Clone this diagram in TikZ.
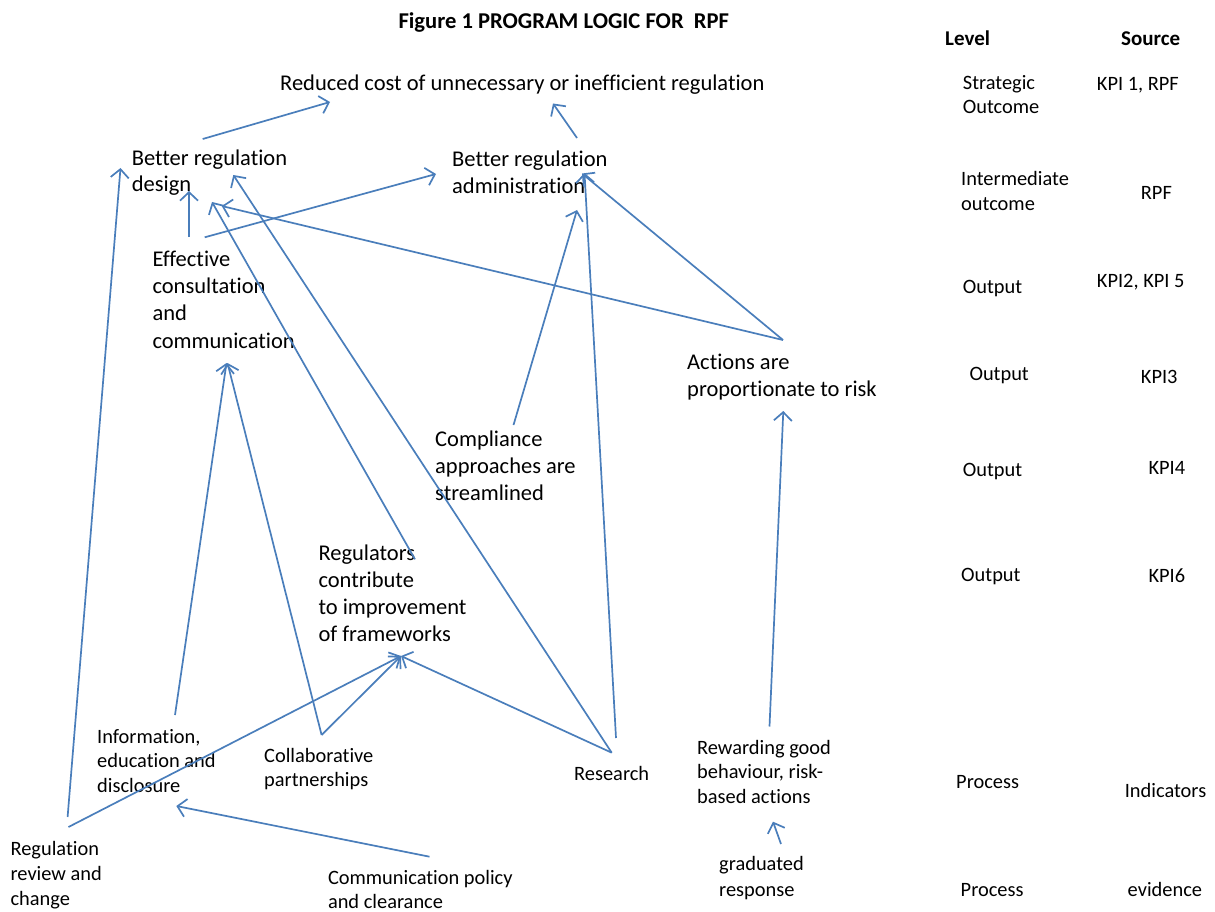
\documentclass[tikz,border=0pt]{standalone}
\usepackage{fontspec}
\setmainfont{Carlito}[Ligatures=NoCommon]
\usetikzlibrary{arrows.meta}
\definecolor{arrowblue}{RGB}{74,126,187}
\tikzset{
  lbl/.style={anchor=base west, inner sep=0pt, align=left, font=\fontsize{22.5}{#1}\selectfont},
  lbl/.default=27,
  slbl/.style={anchor=base west, inner sep=0pt, align=left, font=\fontsize{20.4}{#1}\selectfont},
  slbl/.default=24.5,
  hdr/.style={anchor=base west, inner sep=0pt, font=\bfseries\fontsize{21}{24}\selectfont},
  ttl/.style={anchor=base west, inner sep=0pt, font=\bfseries\fontsize{22.6}{26}\selectfont},
  arr/.style={draw=arrowblue, line width=1.7pt, -{Straight Barb[length=8.5pt,width=18pt,line width=1.7pt]}}
}
\begin{document}
\begin{tikzpicture}[x=1pt,y=-1pt]
\useasboundingbox (0,0) rectangle (1215,912);
% title and headers
\node[ttl] (title) at (398.3,28.3) {Figure 1 PROGRAM LOGIC FOR \ RPF};
\node[hdr] (level) at (945,45.5) {Level};
\node[hdr] (source) at (1121,45.5) {Source};
% main labels (anchored at the baseline of the last line)
\node[lbl] (reduced) at (280,91) {Reduced cost of unnecessary or inefficient regulation};
\node[lbl=25.7] (design) at (131.7,191.7) {Better regulation\\design};
\node[lbl=26.7] (admin) at (452,193.4) {Better regulation\\administration};
\node[lbl=27.4] (effective) at (152.3,348.2) {Effective\\consultation\\and\\communication};
\node[lbl=26.7] (actions) at (687,396) {Actions are\\proportionate to risk};
\node[lbl=27] (compliance) at (435,500) {Compliance\\approaches are\\streamlined};
\node[lbl=27.2] (regulators) at (318.3,641.6) {Regulators\\contribute\\to improvement\\of frameworks};
% small labels
\node[slbl=24.5] (info) at (97,792.3) {Information,\\education and\\disclosure};
\node[slbl=24.4] (collab) at (264,786.7) {Collaborative\\partnerships};
\node[slbl] (research) at (574,780) {Research};
\node[slbl=24.7] (rewarding) at (697,803.4) {Rewarding good\\behaviour, risk-\\based actions};
\node[slbl=26.7] (graduated) at (719,896.7) {graduated\\response};
\node[slbl=25] (review) at (10.4,905) {Regulation\\review and\\change};
\node[slbl=24] (commpol) at (327.8,908.3) {Communication policy\\and clearance};
% level column
\node[slbl=24.7] (lv1) at (962.7,114) {Strategic\\Outcome};
\node[slbl=25] (lv2) at (961,210.7) {Intermediate\\outcome};
\node[slbl] (lv3) at (962.7,293.3) {Output};
\node[slbl] (lv4) at (969.3,380) {Output};
\node[slbl] (lv5) at (962.7,476.7) {Output};
\node[slbl] (lv6) at (961,581) {Output};
\node[slbl] (lv7) at (956,788.3) {Process};
\node[slbl] (lv8) at (960.5,896.7) {Process};
% source column
\node[slbl] (src1) at (1096.7,90.7) {KPI 1, RPF};
\node[slbl] (src2) at (1140.7,200) {RPF};
\node[slbl] (src3) at (1096.7,287.3) {KPI2, KPI 5};
\node[slbl] (src4) at (1140.7,383.3) {KPI3};
\node[slbl] (src5) at (1148.3,474.3) {KPI4};
\node[slbl] (src6) at (1148.3,582.7) {KPI6};
\node[slbl] (src7) at (1124.6,797.7) {Indicators};
\node[slbl] (src8) at (1127.5,896.7) {evidence};
% connector end points
\coordinate (reduced-in1) at (330,102);
\coordinate (reduced-in2) at (553,103.5);
\coordinate (design-out) at (202.7,139);
\coordinate (admin-out) at (577,138);
\coordinate (design-in1) at (189,191);
\coordinate (design-in2) at (221.7,206);
\coordinate (design-in3) at (233.3,175);
\coordinate (design-in4) at (212,202);
\coordinate (design-in5) at (120.5,168);
\coordinate (admin-in1) at (436,174);
\coordinate (admin-in2) at (582,173.5);
\coordinate (admin-in3) at (577,210);
\coordinate (admin-in4) at (584.5,173);
\coordinate (eff-out1) at (189,237);
\coordinate (eff-out2) at (204.7,237.3);
\coordinate (eff-in1) at (226.5,363);
\coordinate (eff-in2) at (227.5,363);
\coordinate (act-out) at (783,340);
\coordinate (act-in) at (783.3,411);
\coordinate (comp-out) at (513.5,425);
\coordinate (res-out1) at (616,738);
\coordinate (res-out2) at (611.7,752.7);
\coordinate (reg-out) at (415,559.3);
\coordinate (reg-in) at (401,656);
\coordinate (info-out) at (175,715);
\coordinate (info-in) at (176.3,806);
\coordinate (collab-out) at (321.6,735);
\coordinate (review-out1) at (68.5,827);
\coordinate (review-out2) at (67.6,817);
\coordinate (commpol-out) at (429.5,856.7);
\coordinate (rew-out) at (769.5,726.5);
\coordinate (rew-in) at (773,821.7);
\coordinate (grad-out) at (781,844);
% connectors
\draw[arr] (design-out) -- (reduced-in1);
\draw[arr] (admin-out) -- (reduced-in2);
\draw[arr] (eff-out1) -- (design-in1);
\draw[arr] (eff-out2) -- (admin-in1);
\draw[arr] (act-out) -- (design-in2);
\draw[arr] (act-out) -- (admin-in2);
\draw[arr] (comp-out) -- (admin-in3);
\draw[arr] (res-out1) -- (admin-in4);
\draw[arr] (res-out2) -- (design-in3);
\draw[arr] (res-out2) -- (reg-in);
\draw[arr] (reg-out) -- (design-in4);
\draw[arr] (info-out) -- (eff-in1);
\draw[arr] (collab-out) -- (eff-in2);
\draw[arr] (collab-out) -- (reg-in);
\draw[arr] (review-out1) -- (reg-in);
\draw[arr] (review-out2) -- (design-in5);
\draw[arr] (commpol-out) -- (info-in);
\draw[arr] (rew-out) -- (act-in);
\draw[arr] (grad-out) -- (rew-in);
\end{tikzpicture}
\end{document}
